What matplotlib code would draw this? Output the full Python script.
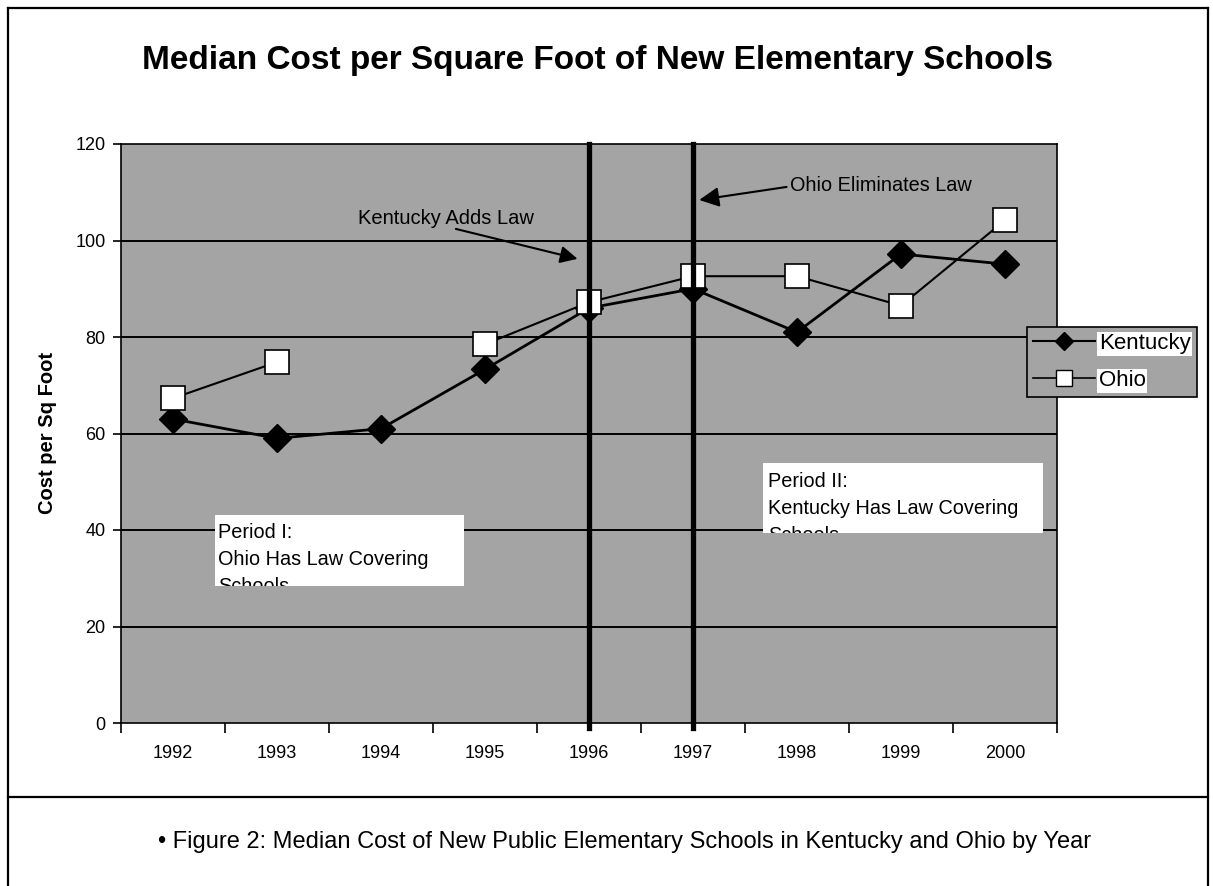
import matplotlib
matplotlib.use('Agg')
import matplotlib.pyplot as plt
from matplotlib.patches import Rectangle
from matplotlib.lines import Line2D
import numpy as np

# data
years = ['1992', '1993', '1994', '1995', '1996', '1997', '1998', '1999', '2000']
kentucky = [63.0, 59.0, 61.0, 73.3, 86.0, 90.0, 81.0, 97.2, 95.1]
ohio = [67.3, 74.8, np.nan, 78.5, 87.2, 92.6, 92.6, 86.5, 104.2]
law_years = ['1996', '1997']
y_ticks = [0, 20, 40, 60, 80, 100, 120]

plt.rcParams['font.family'] = ['Liberation Sans', 'DejaVu Sans']

W, H = 1213, 886
fig = plt.figure(figsize=(W / 100, H / 100), dpi=100)
fig.patch.set_facecolor('white')


def fx(px):
    return px / W


def fy(py):
    return 1 - py / H


ax = fig.add_axes([fx(121), fy(723), fx(1057) - fx(121), fy(144) - fy(723)])
ax.set_facecolor('#a4a4a4')
x = np.arange(len(years))

# horizontal gridlines
ax.set_ylim(0, 120)
ax.set_xlim(-0.5, len(years) - 0.5)
for v in y_ticks[1:-1]:
    ax.axhline(v, color='black', lw=1.4, zorder=1)

ax.plot(x, kentucky, color='black', lw=2, marker='D', ms=14,
        mfc='black', mec='black', zorder=3, label='Kentucky')
ax.plot(x, ohio, color='black', lw=1.5, marker='s', ms=17,
        mfc='white', mec='black', mew=1.2, zorder=4, label='Ohio')

# law-change lines
for yr in law_years:
    ax.axvline(years.index(yr), color='black', lw=3.8, zorder=5, clip_on=False,
               ymin=-0.008, ymax=1.0)

ax.set_yticks(y_ticks)
ax.set_yticklabels([str(v) for v in y_ticks], fontsize=13)
ax.set_xticks(x)
ax.set_xticklabels(years, fontsize=13)
ax.set_xticks(np.arange(-0.5, len(years), 1), minor=True)
ax.tick_params(axis='x', which='major', length=0, pad=16)
ax.tick_params(axis='x', which='minor', length=7, width=1.2, direction='out')
ax.tick_params(axis='y', length=6, width=1.2, pad=5)
for s in ax.spines.values():
    s.set_color('black')
    s.set_linewidth(1.2)

fig.text(fx(48), fy(433), 'Cost per Sq Foot', rotation=90, ha='center',
         va='center', fontsize=14.5, fontweight='bold')
fig.text(fx(598), fy(61), 'Median Cost per Square Foot of New Elementary Schools',
         ha='center', va='center', fontsize=24, fontweight='bold')

# annotations
ax.text(2.62, 104.6, 'Kentucky Adds Law', ha='center', va='center',
        fontsize=14.5, zorder=6)
ax.annotate('', xy=(3.89, 96.2), xytext=(2.72, 102.4), zorder=6,
            arrowprops=dict(arrowstyle='-|>', color='black', lw=1.5,
                            mutation_scale=26, shrinkA=0, shrinkB=0))
ax.text(5.93, 111.3, 'Ohio Eliminates Law', ha='left', va='center',
        fontsize=14.3, zorder=6)
ax.annotate('', xy=(5.06, 108.4), xytext=(5.90, 111.1), zorder=6,
            arrowprops=dict(arrowstyle='-|>', color='black', lw=1.5,
                            mutation_scale=30, shrinkA=0, shrinkB=0))


# period boxes (text clipped by the white box)
def period_box(x0, x1, y0, y1, tx, ty, text):
    r = Rectangle((x0, y0), x1 - x0, y1 - y0, facecolor='white',
                  edgecolor='none', zorder=6)
    ax.add_patch(r)
    t = ax.text(tx, ty, text, ha='left', va='top', fontsize=14.3,
                linespacing=1.55, zorder=7, clip_on=True)
    t.set_clip_path(r)


period_box(0.404, 2.798, 28.4, 43.1, 0.435, 41.5,
           'Period I:\nOhio Has Law Covering\nSchools')
period_box(5.673, 8.365, 39.4, 53.9, 5.72, 52.1,
           'Period II:\nKentucky Has Law Covering\nSchools')

# legend
handles = [Line2D([], [], color='black', lw=1.5, marker='D', ms=9, mfc='black'),
           Line2D([], [], color='black', lw=1.2, marker='s', ms=11, mfc='white',
                  mec='black')]
leg = fig.legend(handles, ['Kentucky', 'Ohio'], loc='upper left',
                 bbox_to_anchor=(fx(1027), fy(327)), fontsize=16,
                 frameon=True, fancybox=False, facecolor='#a4a4a4',
                 edgecolor='black', framealpha=1, handlelength=2.8,
                 handletextpad=0.15, borderpad=0.28, labelspacing=0.72,
                 borderaxespad=0)
leg.get_frame().set_linewidth(1.2)
for t in leg.get_texts():
    t.set_bbox(dict(facecolor='white', edgecolor='none', pad=1))

# outer frame and caption box
lw = 1.6
fig.add_artist(Line2D([fx(8), fx(1208)], [fy(8), fy(8)], color='black', lw=lw))
fig.add_artist(Line2D([fx(8), fx(1208)], [fy(797), fy(797)], color='black', lw=lw))
fig.add_artist(Line2D([fx(8), fx(8)], [fy(8), fy(886)], color='black', lw=lw))
fig.add_artist(Line2D([fx(1208), fx(1208)], [fy(8), fy(886)], color='black', lw=lw))

fig.text(fx(158), fy(842),
         '\u2022 Figure 2: Median Cost of New Public Elementary Schools in Kentucky and Ohio by Year',
         ha='left', va='center', fontsize=17)

fig.savefig('out.png', dpi=100, facecolor='white')
